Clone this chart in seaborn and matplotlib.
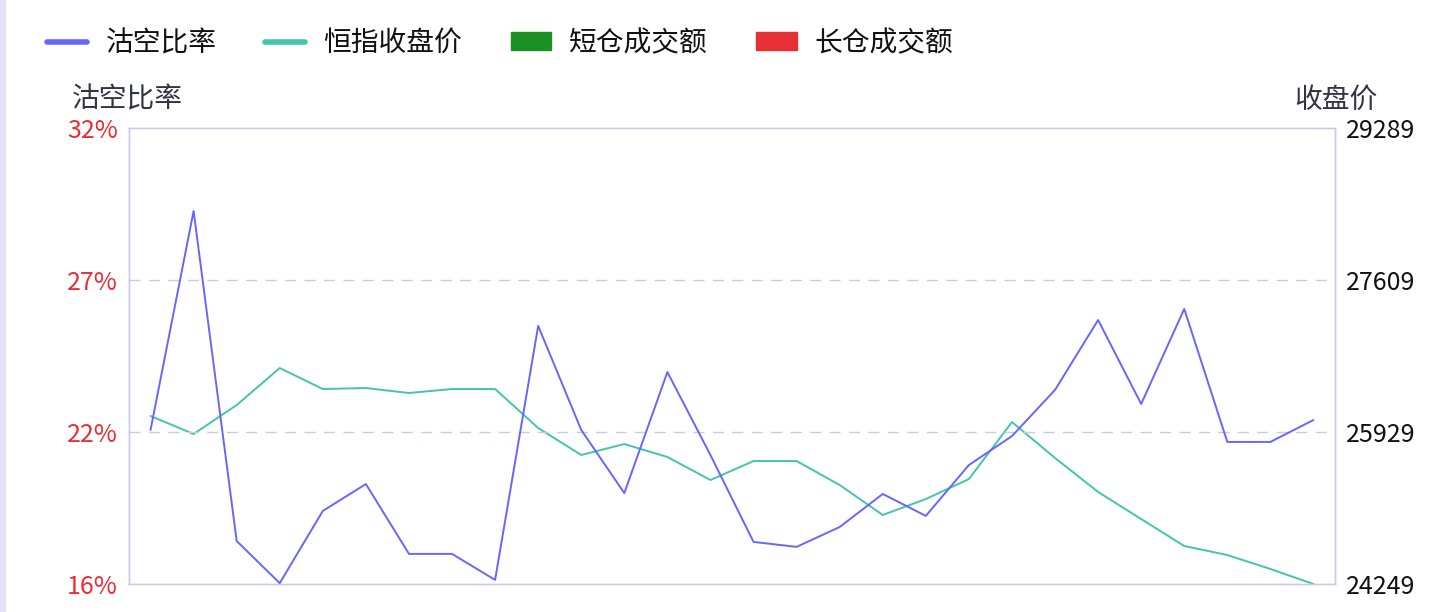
import numpy as np
import pandas as pd
import seaborn as sns
from matplotlib import pyplot as plt
from matplotlib.lines import Line2D
from matplotlib.patches import Patch, Rectangle

# 沽空比率 (%) and 恒指收盘价, 28 trading days
short_ratio = [21.67, 29.16, 17.87, 16.43, 18.90, 19.82, 17.43, 17.43, 16.54, 25.23,
               21.67, 19.51, 23.65, 20.81, 17.84, 17.67, 18.35, 19.48, 18.73, 20.47,
               21.46, 23.04, 25.43, 22.56, 25.81, 21.26, 21.26, 22.01]
close_price = [26106, 25907, 26227, 26636, 26404, 26415, 26360, 26404, 26404, 25973,
               25675, 25796, 25653, 25398, 25608, 25608, 25343, 25012, 25188, 25409,
               26039, 25642, 25266, 24967, 24669, 24569, 24415, 24249]
left_ticks = ['16%', '22%', '27%', '32%']
right_ticks = ['24249', '25929', '27609', '29289']
legend_names = ['沽空比率', '恒指收盘价', '短仓成交额', '长仓成交额']

c_blue = '#6666ff'
c_green = '#44c4aa'
c_bar_green = '#1a8f24'
c_bar_red = '#e63036'
c_grid = '#ccc8e8'

sns.set_theme(style='white')
plt.rcParams['font.family'] = ['Noto Sans CJK SC', 'DejaVu Sans']

df = pd.DataFrame({'day': np.arange(len(short_ratio)),
                   'ratio': short_ratio, 'close': close_price})

fig = plt.figure(figsize=(14.38, 6.12), dpi=100)
fig.patches.append(Rectangle((0, 0), 5 / 1438, 1, transform=fig.transFigure,
                             color='#e4e2f4', zorder=0))
ax = fig.add_axes([129 / 1438, 1 - 584 / 612, 1206 / 1438, 456 / 612])
ax2 = ax.twinx()

sns.lineplot(data=df, x='day', y='ratio', ax=ax, color=c_blue, lw=1.4, zorder=3)
sns.lineplot(data=df, x='day', y='close', ax=ax2, color=c_green, lw=1.4)
ax.set_zorder(ax2.get_zorder() + 1)
ax.patch.set_visible(False)

ylo, yhi = 16.4, 32
ax.set_ylim(ylo, yhi)
lt = np.linspace(ylo, yhi, 4)
ax.set_yticks(lt)
ax.set_yticklabels(left_ticks)
ax2.set_ylim(24249, 29289)
ax2.set_yticks(np.linspace(24249, 29289, 4))
ax2.set_yticklabels(right_ticks)
ax.set_xlim(-0.5, len(short_ratio) - 0.5)
ax.set_xticks([])
ax.set_xlabel('')
ax.set_ylabel('')
ax2.set_ylabel('')

for y in lt[1:-1]:
    ax.axhline(y, color=c_grid, lw=1, ls=(0, (8, 6)), zorder=1)

for a in (ax, ax2):
    for s in a.spines.values():
        s.set_color(c_grid)
        s.set_linewidth(1)
ax.tick_params(axis='y', length=0, pad=8, labelsize=18, labelcolor='#e63036')
ax2.tick_params(axis='y', length=0, pad=8, labelsize=18, labelcolor='#111111')

fig.text(72 / 1438, 1 - 100 / 612, '沽空比率', fontsize=20, color='#333344', va='center')
fig.text(1378 / 1438, 1 - 100 / 612, '收盘价', fontsize=20, color='#333344',
         va='center', ha='right')

handles = [Line2D([], [], color=c_blue, lw=4),
           Line2D([], [], color=c_green, lw=4),
           Patch(color=c_bar_green),
           Patch(color=c_bar_red)]
leg = fig.legend(handles, legend_names, loc='center left',
                 bbox_to_anchor=(36 / 1438, 1 - 43 / 612), borderaxespad=0,
                 ncol=4, frameon=False, fontsize=20, handlelength=1.45, handleheight=0.6,
                 handletextpad=0.65, columnspacing=1.75)
for t in leg.get_texts():
    t.set_color('#111111')

fig.savefig('out.png', dpi=100)
